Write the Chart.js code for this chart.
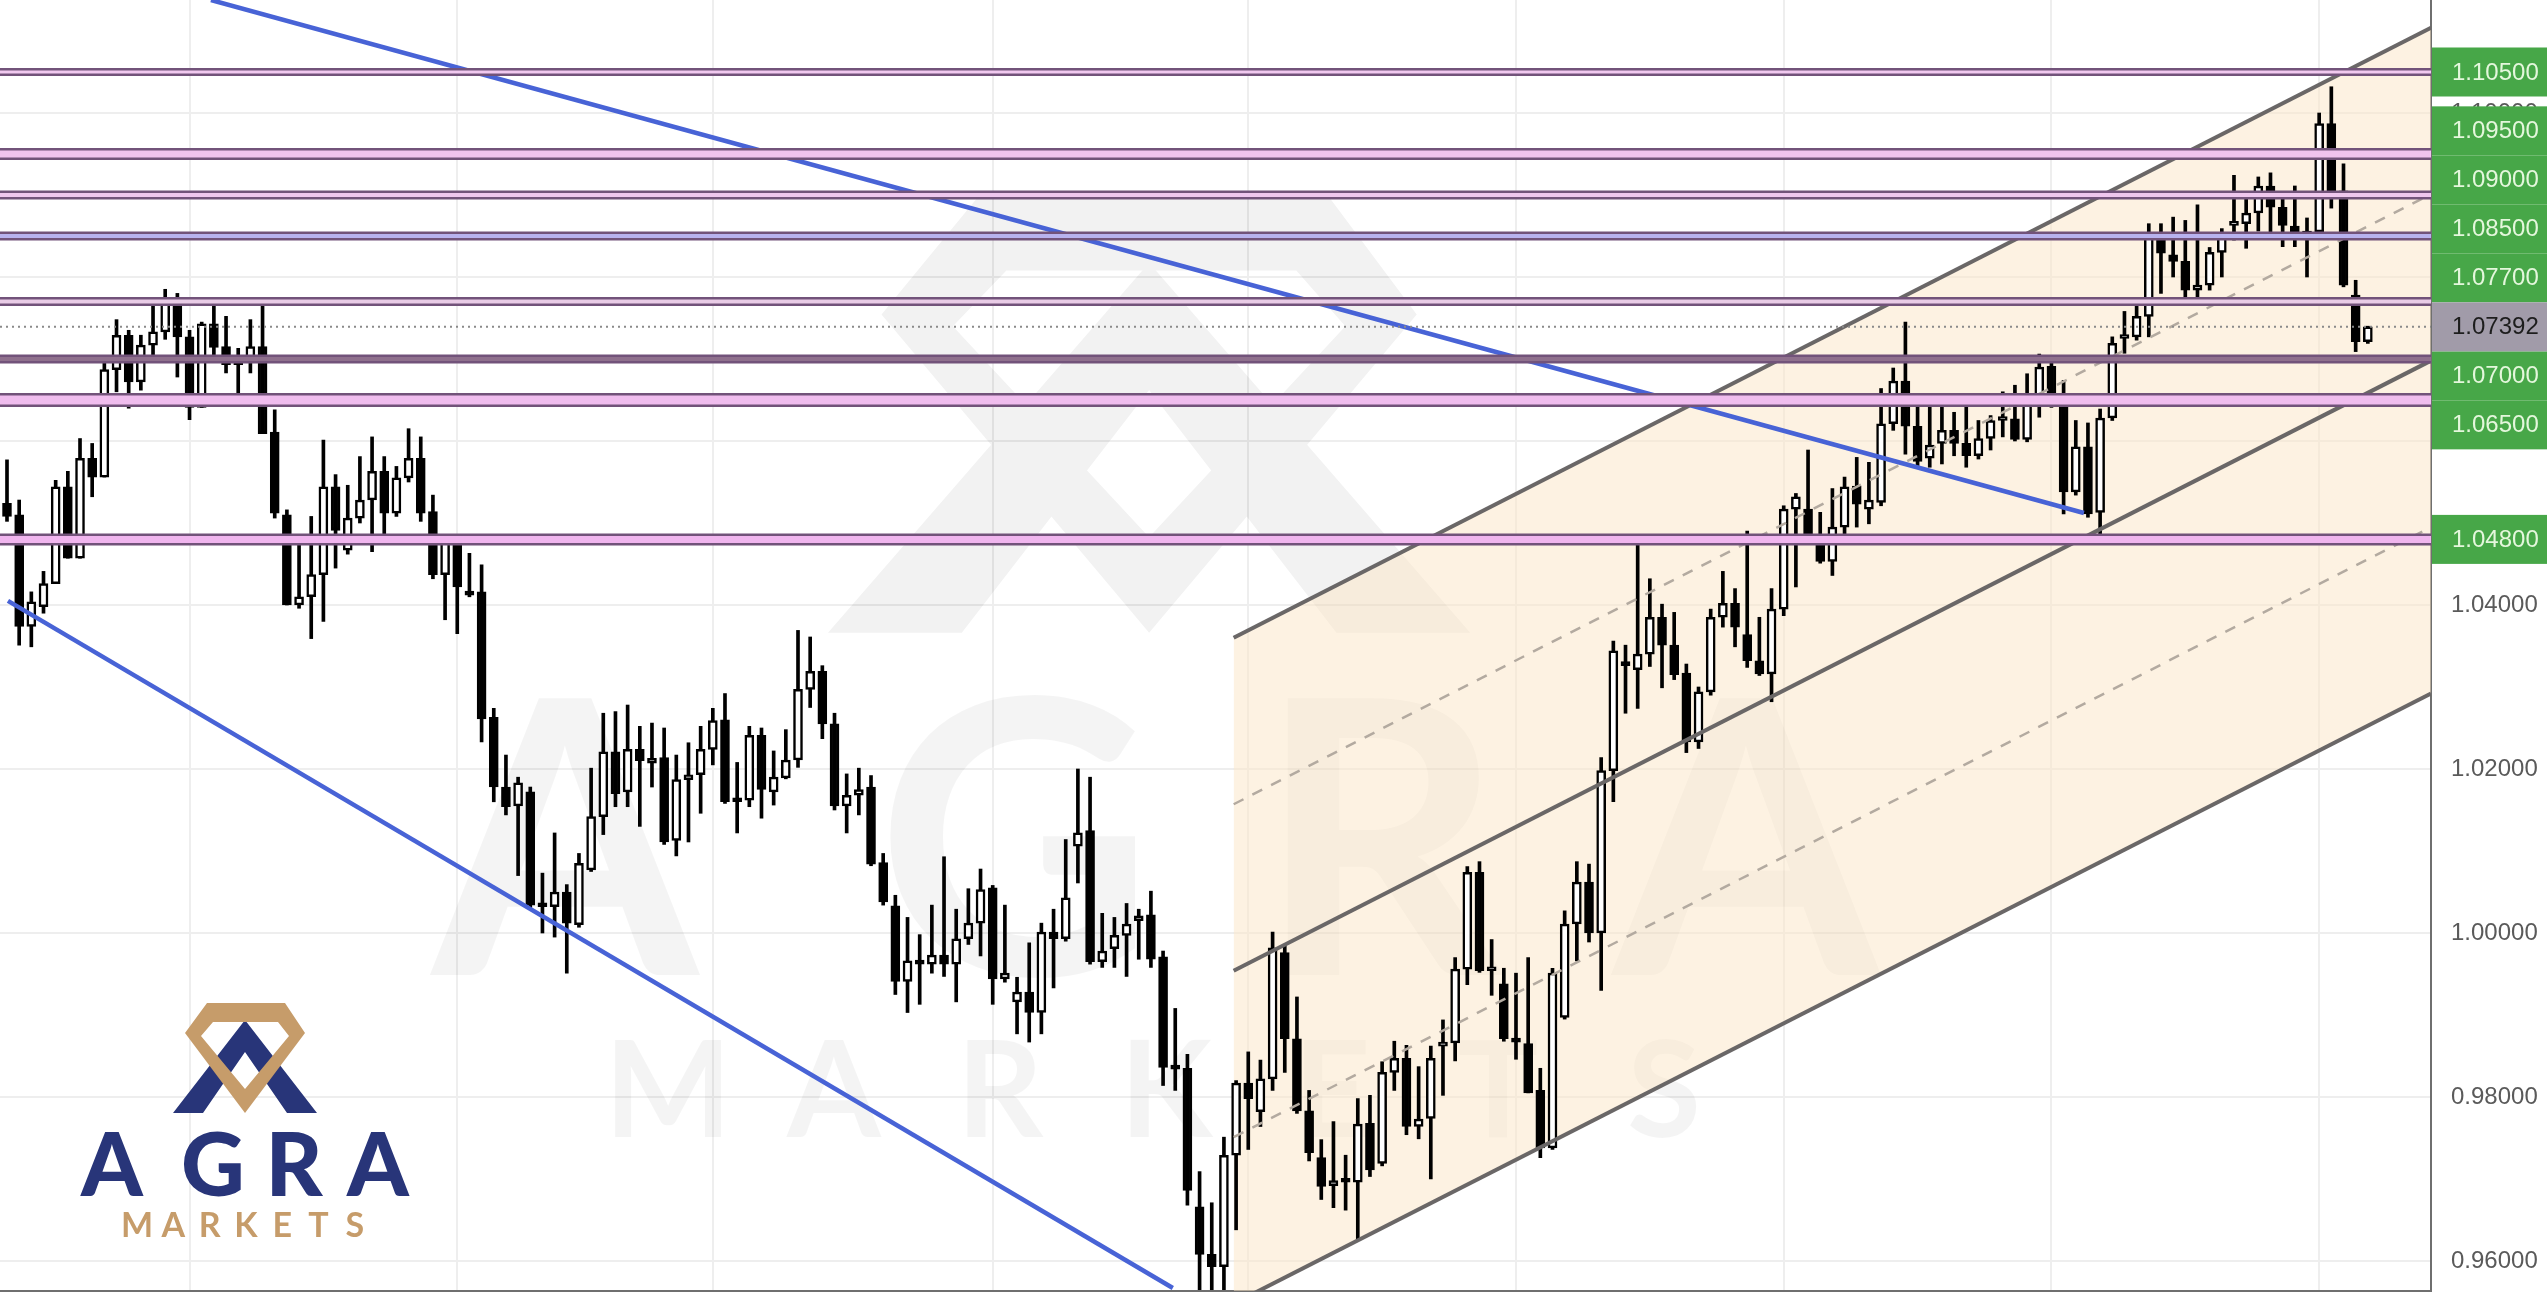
<!DOCTYPE html>
<html><head><meta charset="utf-8">
<script src="https://cdn.jsdelivr.net/npm/chart.js@4.4.0/dist/chart.umd.min.js"></script>
<style>html,body{margin:0;padding:0;background:#fff;overflow:hidden}canvas{display:block}</style>
</head><body><canvas id="c" width="2547" height="1297" style="width:2547px;height:1297px"></canvas>
<script>
// ---- DATA ----
const opens = [1.0524,1.0510,1.0374,1.0398,1.0426,1.0544,1.0457,1.0579,1.0556,1.0687,1.0729,1.0672,1.0717,1.0733,1.0773,1.0727,1.0641,1.0743,1.0715,1.0698,1.0698,1.0715,1.0611,1.0510,1.0400,1.0410,1.0437,1.0544,1.0467,1.0506,1.0528,1.0563,1.0512,1.0555,1.0579,1.0514,1.0437,1.0481,1.0416,1.0416,1.0263,1.0178,1.0155,1.0172,1.0036,1.0032,1.0050,1.0010,1.0077,1.0142,1.0221,1.0172,1.0224,1.0207,1.0214,1.0113,1.0187,1.0193,1.0224,1.0260,1.0162,1.0162,1.0241,1.0172,1.0189,1.0211,1.0297,1.0319,1.0255,1.0155,1.0168,1.0178,1.0086,1.0033,0.9941,0.9966,0.9962,0.9973,0.9962,0.9993,1.0012,1.0055,0.9944,0.9916,0.9928,0.9903,1.0001,0.9993,1.0106,1.0125,0.9965,0.9981,0.9997,1.0015,1.0022,0.9971,0.9838,0.9835,0.9666,0.9608,0.9593,0.9729,0.9817,0.9782,0.9822,0.9976,0.9871,0.9783,0.9726,0.9692,0.9698,0.9696,0.9768,0.9719,0.9830,0.9847,0.9764,0.9774,0.9862,0.9866,0.9956,1.0074,0.9954,0.9938,0.9871,0.9865,0.9808,0.9738,0.9897,1.0011,1.0062,1.0000,1.0198,1.0330,1.0321,1.0340,1.0385,1.0351,1.0317,1.0233,1.0294,1.0385,1.0402,1.0364,1.0332,1.0316,1.0395,1.0517,1.0517,1.0485,1.0453,1.0495,1.0545,1.0517,1.0525,1.0621,1.0673,1.0618,1.0579,1.0597,1.0613,1.0597,1.0582,1.0603,1.0625,1.0627,1.0602,1.0652,1.0691,1.0656,1.0538,1.0593,1.0513,1.0628,1.0725,1.0727,1.0752,1.0850,1.0827,1.0819,1.0784,1.0790,1.0830,1.0863,1.0865,1.0878,1.0911,1.0885,1.0862,1.0847,1.0855,1.0987,1.0905,1.0778,1.0721];
const highs = [1.0577,1.0528,1.0416,1.0441,1.0552,1.0563,1.0603,1.0597,1.0703,1.0748,1.0735,1.0729,1.0766,1.0785,1.0780,1.0735,1.0745,1.0766,1.0752,1.0713,1.0748,1.0772,1.0638,1.0516,1.0481,1.0508,1.0601,1.0559,1.0546,1.0581,1.0605,1.0581,1.0569,1.0615,1.0605,1.0534,1.0485,1.0483,1.0463,1.0449,1.0274,1.0217,1.0190,1.0178,1.0073,1.0122,1.0059,1.0097,1.0201,1.0268,1.0270,1.0278,1.0252,1.0256,1.0250,1.0217,1.0232,1.0252,1.0274,1.0292,1.0208,1.0252,1.0250,1.0222,1.0248,1.0369,1.0361,1.0326,1.0268,1.0194,1.0201,1.0192,1.0097,1.0046,1.0019,0.9998,1.0034,1.0093,1.0029,1.0054,1.0078,1.0058,1.0034,0.9946,0.9988,1.0012,1.0029,1.0114,1.0200,1.0190,1.0024,1.0019,1.0036,1.0029,1.0051,0.9978,0.9908,0.9852,0.9709,0.9671,0.9751,0.9820,0.9855,0.9845,1.0001,0.9985,0.9922,0.9808,0.9748,0.9770,0.9729,0.9798,0.9802,0.9843,0.9868,0.9863,0.9837,0.9862,0.9894,0.9970,1.0081,1.0087,0.9992,0.9957,0.9951,0.9970,0.9835,0.9957,1.0027,1.0087,1.0084,1.0214,1.0356,1.0351,1.0474,1.0432,1.0401,1.0391,1.0328,1.0300,1.0395,1.0441,1.0420,1.0490,1.0385,1.0420,1.0521,1.0536,1.0589,1.0513,1.0542,1.0556,1.0580,1.0574,1.0664,1.0689,1.0745,1.0654,1.0650,1.0650,1.0635,1.0650,1.0625,1.0631,1.0660,1.0668,1.0682,1.0706,1.0695,1.0674,1.0625,1.0622,1.0639,1.0727,1.0758,1.0775,1.0865,1.0865,1.0873,1.0869,1.0888,1.0836,1.0859,1.0924,1.0897,1.0922,1.0927,1.0899,1.0911,1.0872,1.1000,1.1032,1.0938,1.0796,1.0740];
const lows = [1.0502,1.0351,1.0349,1.0390,1.0426,1.0457,1.0457,1.0532,1.0556,1.0660,1.0640,1.0662,1.0697,1.0724,1.0678,1.0626,1.0641,1.0703,1.0683,1.0648,1.0683,1.0609,1.0506,1.0400,1.0396,1.0359,1.0380,1.0445,1.0462,1.0500,1.0465,1.0479,1.0508,1.0550,1.0502,1.0432,1.0382,1.0365,1.0410,1.0233,1.0160,1.0144,1.0070,1.0030,1.0000,0.9995,0.9951,1.0007,1.0075,1.0120,1.0154,1.0154,1.0130,1.0178,1.0108,1.0094,1.0111,1.0146,1.0205,1.0158,1.0122,1.0154,1.0140,1.0156,1.0188,1.0202,1.0275,1.0237,1.0150,1.0122,1.0144,1.0082,1.0034,0.9925,0.9903,0.9913,0.9951,0.9947,0.9916,0.9986,0.9972,0.9913,0.9940,0.9877,0.9867,0.9877,0.9933,0.9990,1.0061,0.9962,0.9958,0.9958,0.9947,0.9968,0.9958,0.9814,0.9808,0.9668,0.9565,0.9565,0.9565,0.9638,0.9736,0.9764,0.9808,0.9830,0.9780,0.9722,0.9675,0.9665,0.9662,0.9627,0.9703,0.9716,0.9808,0.9754,0.9749,0.9700,0.9802,0.9844,0.9937,0.9952,0.9924,0.9868,0.9846,0.9805,0.9726,0.9736,0.9895,0.9966,0.9989,0.9930,1.0160,1.0268,1.0274,1.0325,1.0299,1.0309,1.0220,1.0225,1.0290,1.0373,1.0349,1.0324,1.0314,1.0282,1.0387,1.0422,1.0475,1.0451,1.0436,1.0483,1.0495,1.0499,1.0521,1.0613,1.0584,1.0570,1.0568,1.0572,1.0582,1.0568,1.0578,1.0589,1.0605,1.0600,1.0599,1.0629,1.0641,1.0511,1.0534,1.0507,1.0475,1.0625,1.0707,1.0723,1.0727,1.0780,1.0800,1.0774,1.0766,1.0784,1.0800,1.0845,1.0835,1.0856,1.0848,1.0837,1.0837,1.0800,1.0853,1.0884,1.0788,1.0709,1.0719];
const closes = [1.0508,1.0374,1.0404,1.0426,1.0544,1.0457,1.0579,1.0556,1.0687,1.0729,1.0672,1.0717,1.0733,1.0773,1.0727,1.0641,1.0743,1.0714,1.0693,1.0693,1.0715,1.0609,1.0512,1.0400,1.0410,1.0437,1.0544,1.0491,1.0506,1.0528,1.0563,1.0512,1.0555,1.0579,1.0512,1.0437,1.0481,1.0422,1.0412,1.0261,1.0178,1.0154,1.0183,1.0034,1.0032,1.0050,1.0012,1.0085,1.0142,1.0221,1.0170,1.0224,1.0210,1.0213,1.0111,1.0187,1.0193,1.0224,1.0259,1.0160,1.0160,1.0241,1.0175,1.0190,1.0211,1.0297,1.0319,1.0255,1.0155,1.0168,1.0175,1.0084,1.0038,0.9941,0.9966,0.9962,0.9973,0.9962,0.9993,1.0012,1.0053,0.9944,0.9951,0.9928,0.9903,1.0001,0.9993,1.0043,1.0122,0.9965,0.9978,0.9997,1.0011,1.0021,0.9968,0.9836,0.9834,0.9686,0.9608,0.9593,0.9729,0.9817,0.9798,0.9822,0.9982,0.9871,0.9783,0.9732,0.9691,0.9698,0.9696,0.9767,0.9711,0.9830,0.9847,0.9764,0.9773,0.9847,0.9866,0.9956,1.0074,0.9954,0.9958,0.9871,0.9867,0.9805,0.9738,0.9951,1.0011,1.0062,1.0000,1.0198,1.0344,1.0326,1.0340,1.0385,1.0351,1.0315,1.0233,1.0294,1.0385,1.0402,1.0373,1.0332,1.0316,1.0395,1.0517,1.0532,1.0485,1.0453,1.0495,1.0544,1.0523,1.0528,1.0621,1.0673,1.0618,1.0575,1.0595,1.0613,1.0597,1.0582,1.0603,1.0625,1.0627,1.0602,1.0652,1.0690,1.0656,1.0538,1.0593,1.0511,1.0628,1.0719,1.0729,1.0752,1.0850,1.0829,1.0819,1.0784,1.0790,1.0830,1.0850,1.0865,1.0878,1.0911,1.0885,1.0863,1.0847,1.0856,1.0987,1.0905,1.0790,1.0721,1.07392];

const levels = [1.105, 1.095, 1.09, 1.085, 1.077, 1.07, 1.065, 1.048];
const lastPrice = 1.07392;
const yTickStep = 0.02;
const monthGridIdx = [15, 37, 58, 81, 102, 124, 146, 168, 190];
const blueUpper = [{x: 16.76, y: 1.11378}, {x: 170.67, y: 1.05122}];
const blueLower = [{x: 0.08, y: 1.0405}, {x: 95.8, y: 0.9567}];
const channelStart = {x: 100.8, y: 1.0360};
const channelEnd = {x: 199.19, y: 1.1104};
const channelOffsets = [0, -0.0203, -0.0406, -0.0609, -0.0812];
const X_MIN = -0.575, X_MAX = 199.19, Y_MIN = 0.95634, Y_MAX = 1.11378;

// ---- STYLES ----
const bandWidth = [8, 12, 9, 9, 9, 9, 14, 12];
const bandFill = ['#f1c9ef','#f1c3ef','#efc7ee','#b8b2ee','#e9cce6','#8f708d','#f0bdee','#f0b5ee'];
const BAND_DARK = '#72537a';
const AX_FONT = "'Liberation Sans', Arial, sans-serif";
const AX_SIZE = 24;

const idx = opens.map((_, i) => i);
const datasets = [];

// channel fill (bottom layer)
const chLine = off => [{x: channelStart.x, y: channelStart.y + off}, {x: channelEnd.x, y: channelEnd.y + off}];
datasets.push({type:'line', data: chLine(0), borderWidth:0, pointRadius:0, fill:'+1', backgroundColor:'rgba(251,229,197,0.5)', order:100});
datasets.push({type:'line', data: chLine(channelOffsets[4]), borderWidth:0, pointRadius:0, fill:false, order:101});

// candles
datasets.push({type:'bar', data: idx.map(i => ({x:i, y:[lows[i], highs[i]]})), backgroundColor:'#000', borderWidth:0, barThickness:3, grouped:false, order:50});
datasets.push({type:'bar', data: idx.map(i => ({x:i, y:[Math.min(opens[i],closes[i]), Math.max(opens[i],closes[i])]})),
  backgroundColor: idx.map(i => closes[i] >= opens[i] ? '#ffffff' : '#000000'),
  borderColor:'#000', borderWidth:2.5, borderSkipped:false, barThickness:9, minBarLength:4, grouped:false, order:40});

// channel lines
channelOffsets.forEach((off, k) => {
  const dashed = k % 2 === 1;
  datasets.push({type:'line', data: chLine(off), borderColor: dashed ? '#b3aaa0' : '#6a6767', borderWidth: dashed ? 2.5 : 4,
    borderDash: dashed ? [11, 10] : [], pointRadius:0, fill:false, order:30});
});

// blue trend lines
[blueUpper, blueLower].forEach(d => datasets.push({type:'line', data:d, borderColor:'#4863d6', borderWidth:4.5, pointRadius:0, fill:false, order:20}));

// horizontal levels
levels.forEach((v, k) => {
  const d = [{x:X_MIN, y:v}, {x:X_MAX, y:v}];
  datasets.push({type:'line', data:d, borderColor:BAND_DARK, borderWidth:bandWidth[k], pointRadius:0, fill:false, order:11});
  datasets.push({type:'line', data:d, borderColor:bandFill[k], borderWidth:Math.max(bandWidth[k]-5, 2), pointRadius:0, fill:false, order:10});
});

// last price dotted line
datasets.push({type:'line', data:[{x:X_MIN, y:lastPrice}, {x:X_MAX, y:lastPrice}], borderColor:'#8a8a8a', borderWidth:2, borderDash:[2,4], pointRadius:0, fill:false, order:5});

// ---- logo helpers ----
function logoPath(ctx, ox, oy, sx, sy, navy, gold) {
  const P = (x, y) => [ox + x * sx, oy + y * sy];
  ctx.fillStyle = navy;
  ctx.beginPath();
  [[72,17],[144,110],[114,110],[72,49],[30,110],[0,110]].forEach((p, i) => { const q = P(p[0], p[1]); i ? ctx.lineTo(q[0], q[1]) : ctx.moveTo(q[0], q[1]); });
  ctx.closePath(); ctx.fill();
  ctx.fillStyle = gold;
  ctx.beginPath();
  [[34,0],[112,0],[132,30],[72,110],[12,30]].forEach((p, i) => { const q = P(p[0], p[1]); i ? ctx.lineTo(q[0], q[1]) : ctx.moveTo(q[0], q[1]); });
  ctx.closePath();
  [[40,19],[28,33],[72,86],[116,33],[105,19]].forEach((p, i) => { const q = P(p[0], p[1]); i ? ctx.lineTo(q[0], q[1]) : ctx.moveTo(q[0], q[1]); });
  ctx.closePath(); ctx.fill('evenodd');
}

const watermark = {
  id:'watermark',
  beforeDatasetsDraw(chart) {
    const ctx = chart.ctx;
    ctx.save();
    const off = document.createElement('canvas'); off.width = 700; off.height = 480;
    logoPath(off.getContext('2d'), 10, 10, 4.46, 3.98, '#000', '#000');
    ctx.globalAlpha = 0.05;
    ctx.drawImage(off, 818, 185);
    ctx.globalAlpha = 1;
    ctx.fillStyle = 'rgba(0,0,0,0.042)';
    ctx.textAlign = 'center'; ctx.textBaseline = 'alphabetic';
    ctx.font = "bold 383px Lato, 'Noto Sans', sans-serif";
    ['A','G','R','A'].forEach((ch, i) => ctx.fillText(ch, [565, 1015, 1380, 1746][i], 975));
    ctx.font = "bold 135px Lato, 'Noto Sans', sans-serif";
    'MARKETS'.split('').forEach((ch, i) => ctx.fillText(ch, 668 + 166 * i, 1137));
    ctx.restore();
  }
};

const priceLabels = {
  id:'priceLabels',
  afterDraw(chart) {
    const ctx = chart.ctx, ys = chart.scales.y;
    const x0 = chart.chartArea.right + 1, x1 = chart.width, H = 49;
    const curY = ys.getPixelForValue(lastPrice);
    const items = [];
    let lim = curY - H;
    levels.filter(v => v > lastPrice).sort((a, b) => a - b).forEach(v => { const py = Math.min(ys.getPixelForValue(v), lim); items.push({v, py}); lim = py - H; });
    lim = curY + H;
    levels.filter(v => v < lastPrice).sort((a, b) => b - a).forEach(v => { const py = Math.max(ys.getPixelForValue(v), lim); items.push({v, py}); lim = py + H; });
    ctx.save();
    ctx.font = AX_SIZE + "px " + AX_FONT; ctx.textAlign = 'left'; ctx.textBaseline = 'middle';
    items.forEach(it => { ctx.fillStyle = '#47a748'; ctx.fillRect(x0, it.py - H / 2, x1 - x0, H); });
    items.forEach(it => { ctx.fillStyle = '#e4f7dc'; ctx.fillText(it.v.toFixed(5), x0 + 20, it.py + 1); });
    ctx.fillStyle = '#a19ba9'; ctx.fillRect(x0, curY - H / 2, x1 - x0, H);
    ctx.fillStyle = '#1d1d1d'; ctx.fillText(lastPrice.toFixed(5), x0 + 20, curY + 1);
    // company logo (bottom-left)
    logoPath(ctx, 173, 1003, 1, 1, '#283579', '#c69c6a');
    ctx.textAlign = 'center'; ctx.textBaseline = 'alphabetic';
    ctx.fillStyle = '#283579'; ctx.font = "900 88px Lato, 'Noto Sans', sans-serif";
    ['A','G','R','A'].forEach((ch, i) => ctx.fillText(ch, [112, 213, 294, 378][i], 1196));
    ctx.fillStyle = '#c69c6a'; ctx.font = "bold 34px Lato, 'Noto Sans', sans-serif";
    'MARKETS'.split('').forEach((ch, i) => ctx.fillText(ch, 137 + 36.3 * i, 1237));
    ctx.restore();
  }
};

new Chart(document.getElementById('c'), {
  type:'bar',
  data:{datasets},
  options:{
    responsive:false, animation:false, devicePixelRatio:1,
    layout:{padding:{left:0, right:0, top:0, bottom:6}},
    plugins:{legend:{display:false}, tooltip:{enabled:false}},
    scales:{
      x:{type:'linear', min:X_MIN, max:X_MAX, offset:false,
         ticks:{display:false}, grid:{color:'#eeeeee', lineWidth:2, drawTicks:false, offset:false},
         border:{display:true, color:'#6f6f6f', width:2},
         afterBuildTicks: s => { s.ticks = monthGridIdx.map(v => ({value:v})); },
         afterFit: s => { s.height = 0; s.paddingLeft = 0; s.paddingRight = 0; }},
      y:{type:'linear', position:'right', min:Y_MIN, max:Y_MAX,
         ticks:{stepSize:yTickStep, includeBounds:false, padding:20, color:'#5a5a5a', font:{family:AX_FONT, size:AX_SIZE}, callback: v => Number(v).toFixed(5)},
         grid:{color:'#eeeeee', lineWidth:2, drawTicks:false},
         border:{display:true, color:'#6f6f6f', width:2},
         afterFit: s => { s.width = 116; s.paddingTop = 0; s.paddingBottom = 0; }}
    }
  },
  plugins:[watermark, priceLabels]
});
</script>
</body></html>
